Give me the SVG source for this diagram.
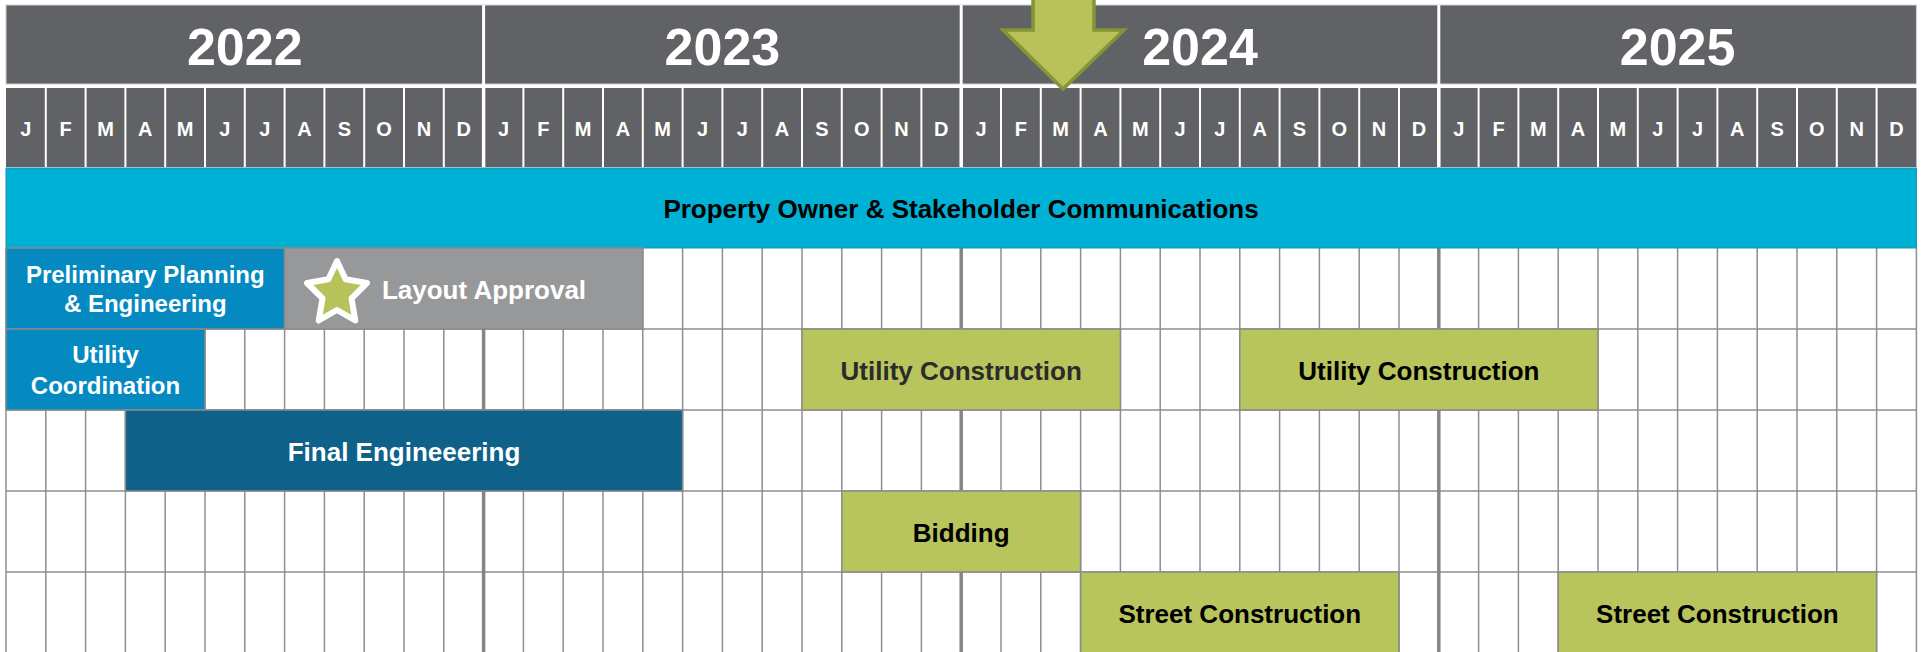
<svg xmlns="http://www.w3.org/2000/svg" width="1923" height="652" viewBox="0 0 1923 652">
<style>
.yr{font-family:"Liberation Sans",Arial,sans-serif;font-weight:bold;font-size:52px;fill:#fff;text-anchor:middle}
.mo{font-family:"Liberation Sans",Arial,sans-serif;font-weight:bold;font-size:20px;fill:#fff;text-anchor:middle}
.lbl{font-family:"Liberation Sans",Arial,sans-serif;font-weight:bold;font-size:26px;text-anchor:middle}
.lbl2{font-family:"Liberation Sans",Arial,sans-serif;font-weight:bold;font-size:24px;text-anchor:middle;fill:#fff}
.w{fill:#fff}
.k{fill:#000}
.bar{stroke:#8a8a8a;stroke-width:1.5}
.green{fill:#b8c45c}
.blue{fill:#0589c1}
</style>
<rect width="1923" height="652" fill="#fff"/>
<g id="header">
<rect x="6" y="5" width="1910.4" height="79" fill="#616265" stroke="#cfcfcf" stroke-width="1"/>
<path d="M483.6 5V84M961.2 5V84M1438.8 5V84" stroke="#fff" stroke-width="3"/>
<text class="yr" x="244.8" y="65">2022</text>
<text class="yr" x="722.4" y="65">2023</text>
<text class="yr" x="1200" y="65">2024</text>
<text class="yr" x="1677.6" y="65">2025</text>
<rect x="6" y="88" width="1910.4" height="79" fill="#616265"/>
<path d="M45.8 88V167M85.6 88V167M125.4 88V167M165.2 88V167M205 88V167M244.8 88V167M284.6 88V167M324.4 88V167M364.2 88V167M404 88V167M443.8 88V167M523.4 88V167M563.2 88V167M603 88V167M642.8 88V167M682.6 88V167M722.4 88V167M762.2 88V167M802 88V167M841.8 88V167M881.6 88V167M921.4 88V167M1001 88V167M1040.8 88V167M1080.6 88V167M1120.4 88V167M1160.2 88V167M1200 88V167M1239.8 88V167M1279.6 88V167M1319.4 88V167M1359.2 88V167M1399 88V167M1478.6 88V167M1518.4 88V167M1558.2 88V167M1598 88V167M1637.8 88V167M1677.6 88V167M1717.4 88V167M1757.2 88V167M1797 88V167M1836.8 88V167M1876.6 88V167" stroke="#fff" stroke-width="2"/>
<path d="M483.6 84V167M961.2 84V167M1438.8 84V167" stroke="#fff" stroke-width="3.5"/>
<g>
<text class="mo" x="25.9" y="136">J</text><text class="mo" x="65.7" y="136">F</text><text class="mo" x="105.5" y="136">M</text><text class="mo" x="145.3" y="136">A</text><text class="mo" x="185.1" y="136">M</text><text class="mo" x="224.9" y="136">J</text><text class="mo" x="264.7" y="136">J</text><text class="mo" x="304.5" y="136">A</text><text class="mo" x="344.3" y="136">S</text><text class="mo" x="384.1" y="136">O</text><text class="mo" x="423.9" y="136">N</text><text class="mo" x="463.7" y="136">D</text>
<text class="mo" x="503.5" y="136">J</text><text class="mo" x="543.3" y="136">F</text><text class="mo" x="583.1" y="136">M</text><text class="mo" x="622.9" y="136">A</text><text class="mo" x="662.7" y="136">M</text><text class="mo" x="702.5" y="136">J</text><text class="mo" x="742.3" y="136">J</text><text class="mo" x="782.1" y="136">A</text><text class="mo" x="821.9" y="136">S</text><text class="mo" x="861.7" y="136">O</text><text class="mo" x="901.5" y="136">N</text><text class="mo" x="941.3" y="136">D</text>
<text class="mo" x="981.1" y="136">J</text><text class="mo" x="1020.9" y="136">F</text><text class="mo" x="1060.7" y="136">M</text><text class="mo" x="1100.5" y="136">A</text><text class="mo" x="1140.3" y="136">M</text><text class="mo" x="1180.1" y="136">J</text><text class="mo" x="1219.9" y="136">J</text><text class="mo" x="1259.7" y="136">A</text><text class="mo" x="1299.5" y="136">S</text><text class="mo" x="1339.3" y="136">O</text><text class="mo" x="1379.1" y="136">N</text><text class="mo" x="1418.9" y="136">D</text>
<text class="mo" x="1458.7" y="136">J</text><text class="mo" x="1498.5" y="136">F</text><text class="mo" x="1538.3" y="136">M</text><text class="mo" x="1578.1" y="136">A</text><text class="mo" x="1617.9" y="136">M</text><text class="mo" x="1657.7" y="136">J</text><text class="mo" x="1697.5" y="136">J</text><text class="mo" x="1737.3" y="136">A</text><text class="mo" x="1777.1" y="136">S</text><text class="mo" x="1816.9" y="136">O</text><text class="mo" x="1856.7" y="136">N</text><text class="mo" x="1896.5" y="136">D</text>
</g>
</g>
<g id="grid">
<path d="M6 248V652M45.8 248V652M85.6 248V652M125.4 248V652M165.2 248V652M205 248V652M244.8 248V652M284.6 248V652M324.4 248V652M364.2 248V652M404 248V652M443.8 248V652M523.4 248V652M563.2 248V652M603 248V652M642.8 248V652M682.6 248V652M722.4 248V652M762.2 248V652M802 248V652M841.8 248V652M881.6 248V652M921.4 248V652M1001 248V652M1040.8 248V652M1080.6 248V652M1120.4 248V652M1160.2 248V652M1200 248V652M1239.8 248V652M1279.6 248V652M1319.4 248V652M1359.2 248V652M1399 248V652M1478.6 248V652M1518.4 248V652M1558.2 248V652M1598 248V652M1637.8 248V652M1677.6 248V652M1717.4 248V652M1757.2 248V652M1797 248V652M1836.8 248V652M1876.6 248V652M1916.4 248V652M6 329H1916.4M6 410H1916.4M6 491H1916.4M6 572H1916.4" stroke="#8e8e8e" stroke-width="1.5" fill="none"/>
<path d="M483.6 248V652M961.2 248V652M1438.8 248V652" stroke="#858585" stroke-width="3.5"/>
</g>
<g id="comm">
<rect x="6" y="168" width="1910.4" height="80" fill="#00b1d6" stroke="#1a93ad" stroke-width="1"/>
<text class="lbl k" x="961" y="218">Property Owner &amp; Stakeholder Communications</text>
</g>
<g id="prelim">
<rect class="bar blue" x="6" y="248" width="278.6" height="81"/>
<text class="lbl2" x="145.3" y="283">Preliminary Planning</text>
<text class="lbl2" x="145.3" y="312">&amp; Engineering</text>
</g>
<g id="layout">
<rect class="bar" x="284.6" y="248" width="358.2" height="81" fill="#97989a"/>
<path d="M337 261L345.6 279.2L367 283L351.5 298.4L355.3 320.5L337 310L318.7 320.5L322.5 298.4L307 283L328.4 279.2Z" fill="#b7c35a" stroke="#fff" stroke-width="6" stroke-linejoin="round"/>
<text class="lbl w" x="484" y="299">Layout Approval</text>
</g>
<g id="utilcoord">
<rect class="bar blue" x="6" y="329" width="199" height="81"/>
<text class="lbl2" x="105.5" y="363" font-size="25">Utility</text>
<text class="lbl2" x="105.5" y="394" font-size="25">Coordination</text>
</g>
<g id="finaleng">
<rect class="bar" x="125.4" y="410" width="557.2" height="81" fill="#0e6189"/>
<text class="lbl w" x="404" y="461">Final Engineeering</text>
</g>
<g id="utilcon1">
<rect class="bar green" x="802" y="329" width="318.4" height="81"/>
<text class="lbl" x="961.2" y="380" fill="#2b2b2b">Utility Construction</text>
</g>
<g id="utilcon2">
<rect class="bar green" x="1239.8" y="329" width="358.2" height="81"/>
<text class="lbl k" x="1418.9" y="380">Utility Construction</text>
</g>
<g id="bidding">
<rect class="bar green" x="841.8" y="491" width="238.8" height="81"/>
<text class="lbl k" x="961.2" y="542">Bidding</text>
</g>
<g id="street1">
<rect class="bar green" x="1080.6" y="572" width="318.4" height="82"/>
<text class="lbl k" x="1239.8" y="623">Street Construction</text>
</g>
<g id="street2">
<rect class="bar green" x="1558.2" y="572" width="318.4" height="82"/>
<text class="lbl k" x="1717.4" y="623">Street Construction</text>
</g>
<g id="arrow">
<path d="M1033 -5H1094V30H1124L1063 89L1003 30H1033Z" fill="#b7c35a" stroke="#849436" stroke-width="3.5" stroke-linejoin="miter"/>
</g>
</svg>
